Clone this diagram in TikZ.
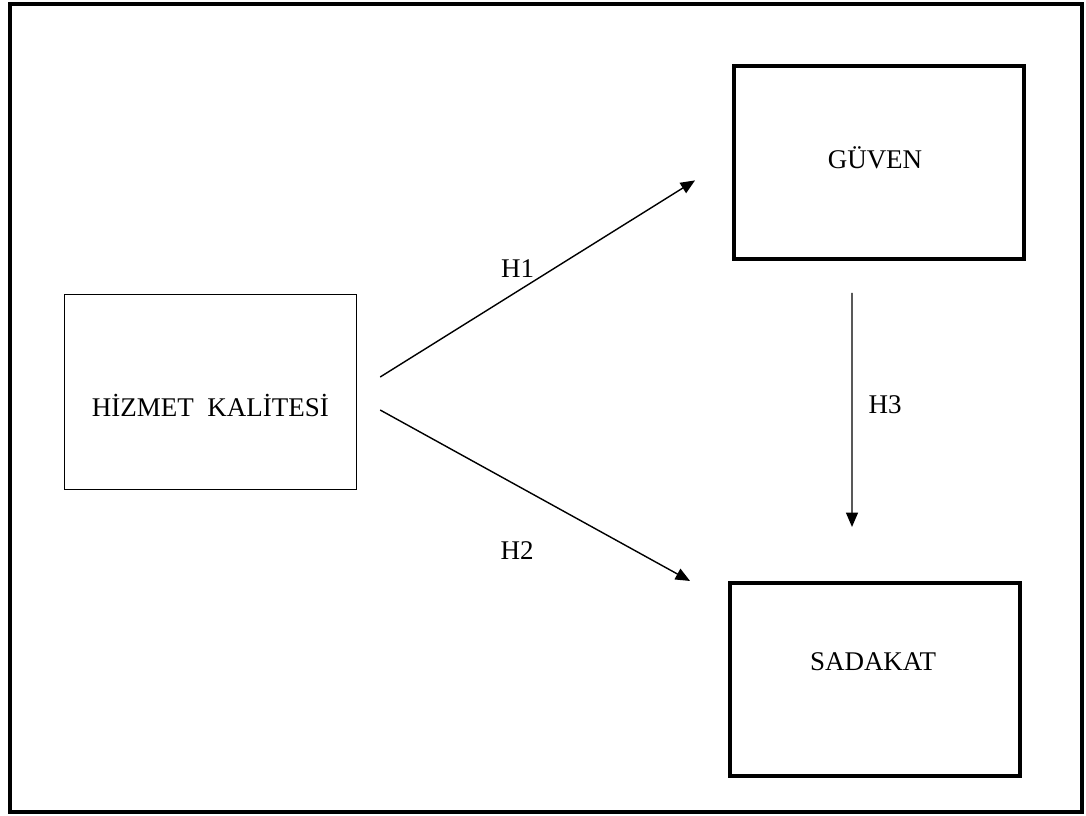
\documentclass[tikz,border=0pt]{standalone}
\usepackage{fontspec}
\setmainfont{Liberation Serif}
\usetikzlibrary{positioning,arrows.meta}

\begin{document}
\begin{tikzpicture}[
    >={Triangle[length=0.36cm,width=0.3cm]},
    every node/.style={font=\fontsize{19.2}{23}\selectfont},
    box/.style={
        draw, line width=#1, inner sep=0pt,
        minimum width=7.3cm, minimum height=4.87cm
    },
    arr/.style={->, line width=1pt},
]
\useasboundingbox (0,0) rectangle (27.15,-20.4);

% === Outer frame ===
\draw[line width=2.8pt] (0.24,-0.1) rectangle (27.05,-20.3);

% === Boxes ===
\node[box=1.1pt] (hizmet) at (5.26,-9.8) {};
\node[box=2.8pt, minimum width=7.25cm, minimum height=4.83cm] (guven) at (21.975,-4.06) {};
\node[box=2.8pt, minimum width=7.25cm, minimum height=4.83cm,
    below=8cm of guven, xshift=-0.1cm] (sadakat) {};

% Box texts
\node at ([yshift=-0.33cm]hizmet.center) (hizmettxt) {HİZMET\ \ KALİTESİ};
\node at ([shift={(-0.1,0.11)}]guven.center) (guventxt) {GÜVEN};
\node at ([shift={(-0.05,0.44)}]sadakat.center) (sadakattxt) {SADAKAT};

% === Arrows ===
\draw[arr] ([shift={(0.575,0.375)}]hizmet.east)
    -- node[xshift=-0.5cm, yshift=0.26cm] (h1) {H1}
    ([shift={(-0.925,-0.45)}]guven.west);
\draw[arr] ([shift={(0.575,-0.45)}]hizmet.east)
    -- node[xshift=-0.45cm, yshift=-1.37cm] (h2) {H2}
    ([xshift=-0.95cm]sadakat.north west);
\draw[arr] ([shift={(-0.675,-0.8)}]guven.south)
    -- node[xshift=0.825cm, yshift=0.12cm] (h3) {H3}
    ([shift={(-0.575,1.35)}]sadakat.north);

\end{tikzpicture}
\end{document}
